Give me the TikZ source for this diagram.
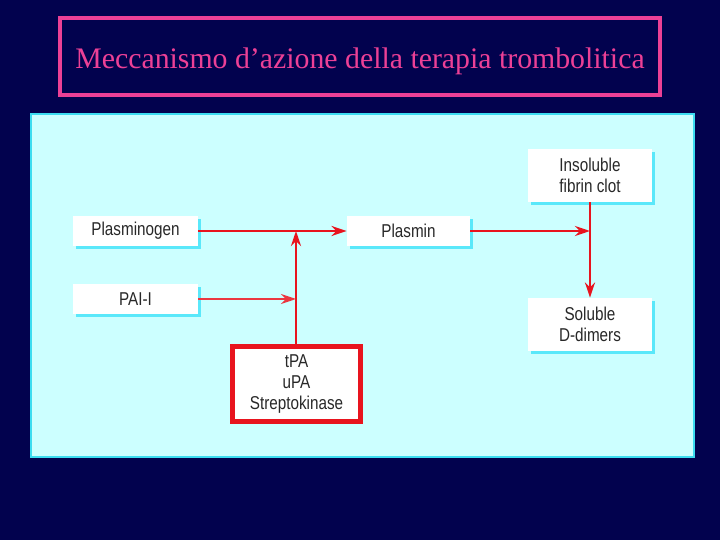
\documentclass[tikz,border=0pt]{standalone}
\usepackage{fontspec}
\setmainfont{Liberation Serif}
\setsansfont{Liberation Sans}[FakeStretch=0.82]
\usetikzlibrary{arrows.meta,shadows}

\definecolor{navybg}{RGB}{2,2,78}
\definecolor{titlepink}{RGB}{236,64,150}
\definecolor{panelcyan}{RGB}{204,255,255}
\definecolor{paneledge}{RGB}{60,220,240}
\definecolor{shadecyan}{RGB}{90,232,250}
\definecolor{flowred}{RGB}{232,20,30}
\definecolor{boxtext}{RGB}{40,40,40}

\tikzset{
  stepbox/.style={fill=white, text=boxtext, font=\sffamily\fontsize{9.3}{10.5}\selectfont,
    align=center, inner sep=0pt,
    general shadow={fill=shadecyan, shadow xshift=1.4pt, shadow yshift=-1.4pt}},
  flow/.style={draw=flowred, line width=1.2pt, -{Stealth[length=7.5pt,width=5pt]}},
}

\begin{document}
\begin{tikzpicture}[x=0.5pt, y=-0.5pt]

    \fill[navybg] (0,0) rectangle (720,540);

    \useasboundingbox (0,0) rectangle (720,540);

    \node (titlebox) [draw=titlepink, line width=1.6pt, minimum width=300pt, minimum height=38.5pt]
      at (360,56.5) {};

    \node (title) [text=titlepink, font=\fontsize{14.9}{16}\selectfont] at (360,61)
      {Meccanismo d’azione della terapia trombolitica};

    \draw[fill=panelcyan, draw=paneledge, line width=1pt] (31,114) rectangle (694,457);

    \node (plasminogen) [stepbox, minimum width=62.5pt, minimum height=15pt] at (135.5,231) {Plasminogen};

    \node (pai) [stepbox, minimum width=62.5pt, minimum height=15pt] at (135.5,299) {PAI-I};

    \node (plasmin) [stepbox, minimum width=61.5pt, minimum height=15pt] at (408.5,231) {Plasmin};

    \node (clot) [stepbox, minimum width=62pt, minimum height=26.5pt] at (590,175.5) {Insoluble\\fibrin clot};

    \node (dimers) [stepbox, minimum width=62pt, minimum height=26.5pt] at (590,324.5) {Soluble\\D-dimers};

    \node (activators) [stepbox, draw=flowred, line width=2.6pt, minimum width=64pt, minimum height=37.5pt,
      general shadow={fill=none}] at (296.5,384) {tPA\\uPA\\Streptokinase};

    \coordinate (join) at (296,231);

    \coordinate (hit) at (296,299);

    \coordinate (split) at (590,231);

    \draw[flow] (plasminogen.east) -- (plasmin.west);

    \draw[flow] (activators.north -| join) -- (join);

    \draw[flow, line width=0.8pt, draw=flowred!85] (pai.east) -- (hit);

    \draw[flow] (plasmin.east) -- (split);

    \draw[flow] (clot.south) -- (dimers.north);

  \end{tikzpicture}
\end{document}
